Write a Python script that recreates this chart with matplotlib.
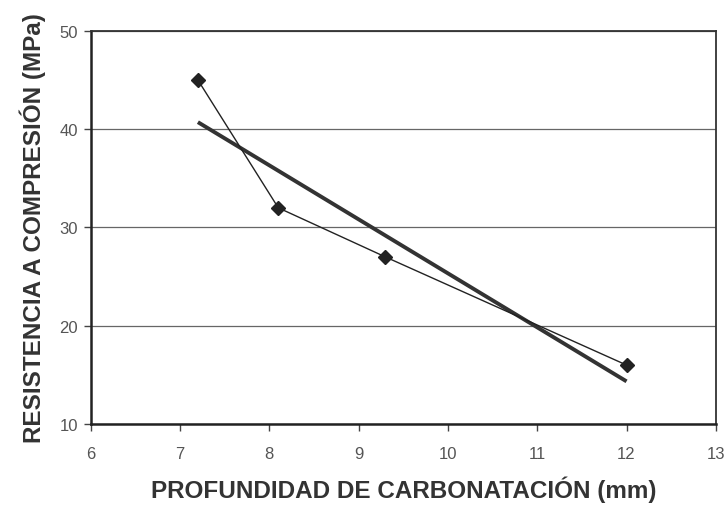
import numpy as np
import matplotlib
matplotlib.use("Agg")
import matplotlib.pyplot as plt

plt.rcParams['font.family'] = ['Liberation Sans', 'DejaVu Sans']

# measured points
depth = [7.2, 8.1, 9.3, 12.0]
strength = [45, 32, 27, 16]

# linear trend over the points
slope, intercept = np.polyfit(depth, strength, 1)
trend_x = np.array([min(depth), max(depth)])
trend_y = slope * trend_x + intercept

fig = plt.figure(figsize=(7.26, 5.06), dpi=100)
ax = fig.add_axes([0.125, 0.16, 0.861, 0.777])

ax.plot(trend_x, trend_y, color='#333333', lw=2.8, solid_capstyle='butt', zorder=3)
ax.plot(depth, strength, color='#222222', lw=1.0, marker='D', ms=7,
        mfc='#222222', mec='#222222', zorder=4)

ax.set_xlim(6, 13)
ax.set_ylim(10, 50)
ax.set_xticks(range(6, 14))
ax.set_yticks(range(10, 51, 10))
ax.yaxis.grid(True, color='#666666', lw=0.9)
ax.set_axisbelow(True)

for side in ['left', 'bottom']:
    ax.spines[side].set_linewidth(1.8)
    ax.spines[side].set_color('#222222')
for side in ['top', 'right']:
    ax.spines[side].set_linewidth(1.3)
    ax.spines[side].set_color('#333333')

ax.tick_params(axis='both', labelsize=12, labelcolor='#555555', color='#444444',
               length=5, width=1)
ax.tick_params(axis='x', pad=11)
ax.tick_params(axis='y', pad=4)

ax.set_xlabel('PROFUNDIDAD DE CARBONATACIÓN (mm)', fontsize=17.5, fontweight='bold',
              color='#333333', labelpad=10)
ax.set_ylabel('RESISTENCIA A COMPRESIÓN (MPa)', fontsize=17.5, fontweight='bold',
              color='#333333', labelpad=10)

fig.savefig('out.png', dpi=100)
